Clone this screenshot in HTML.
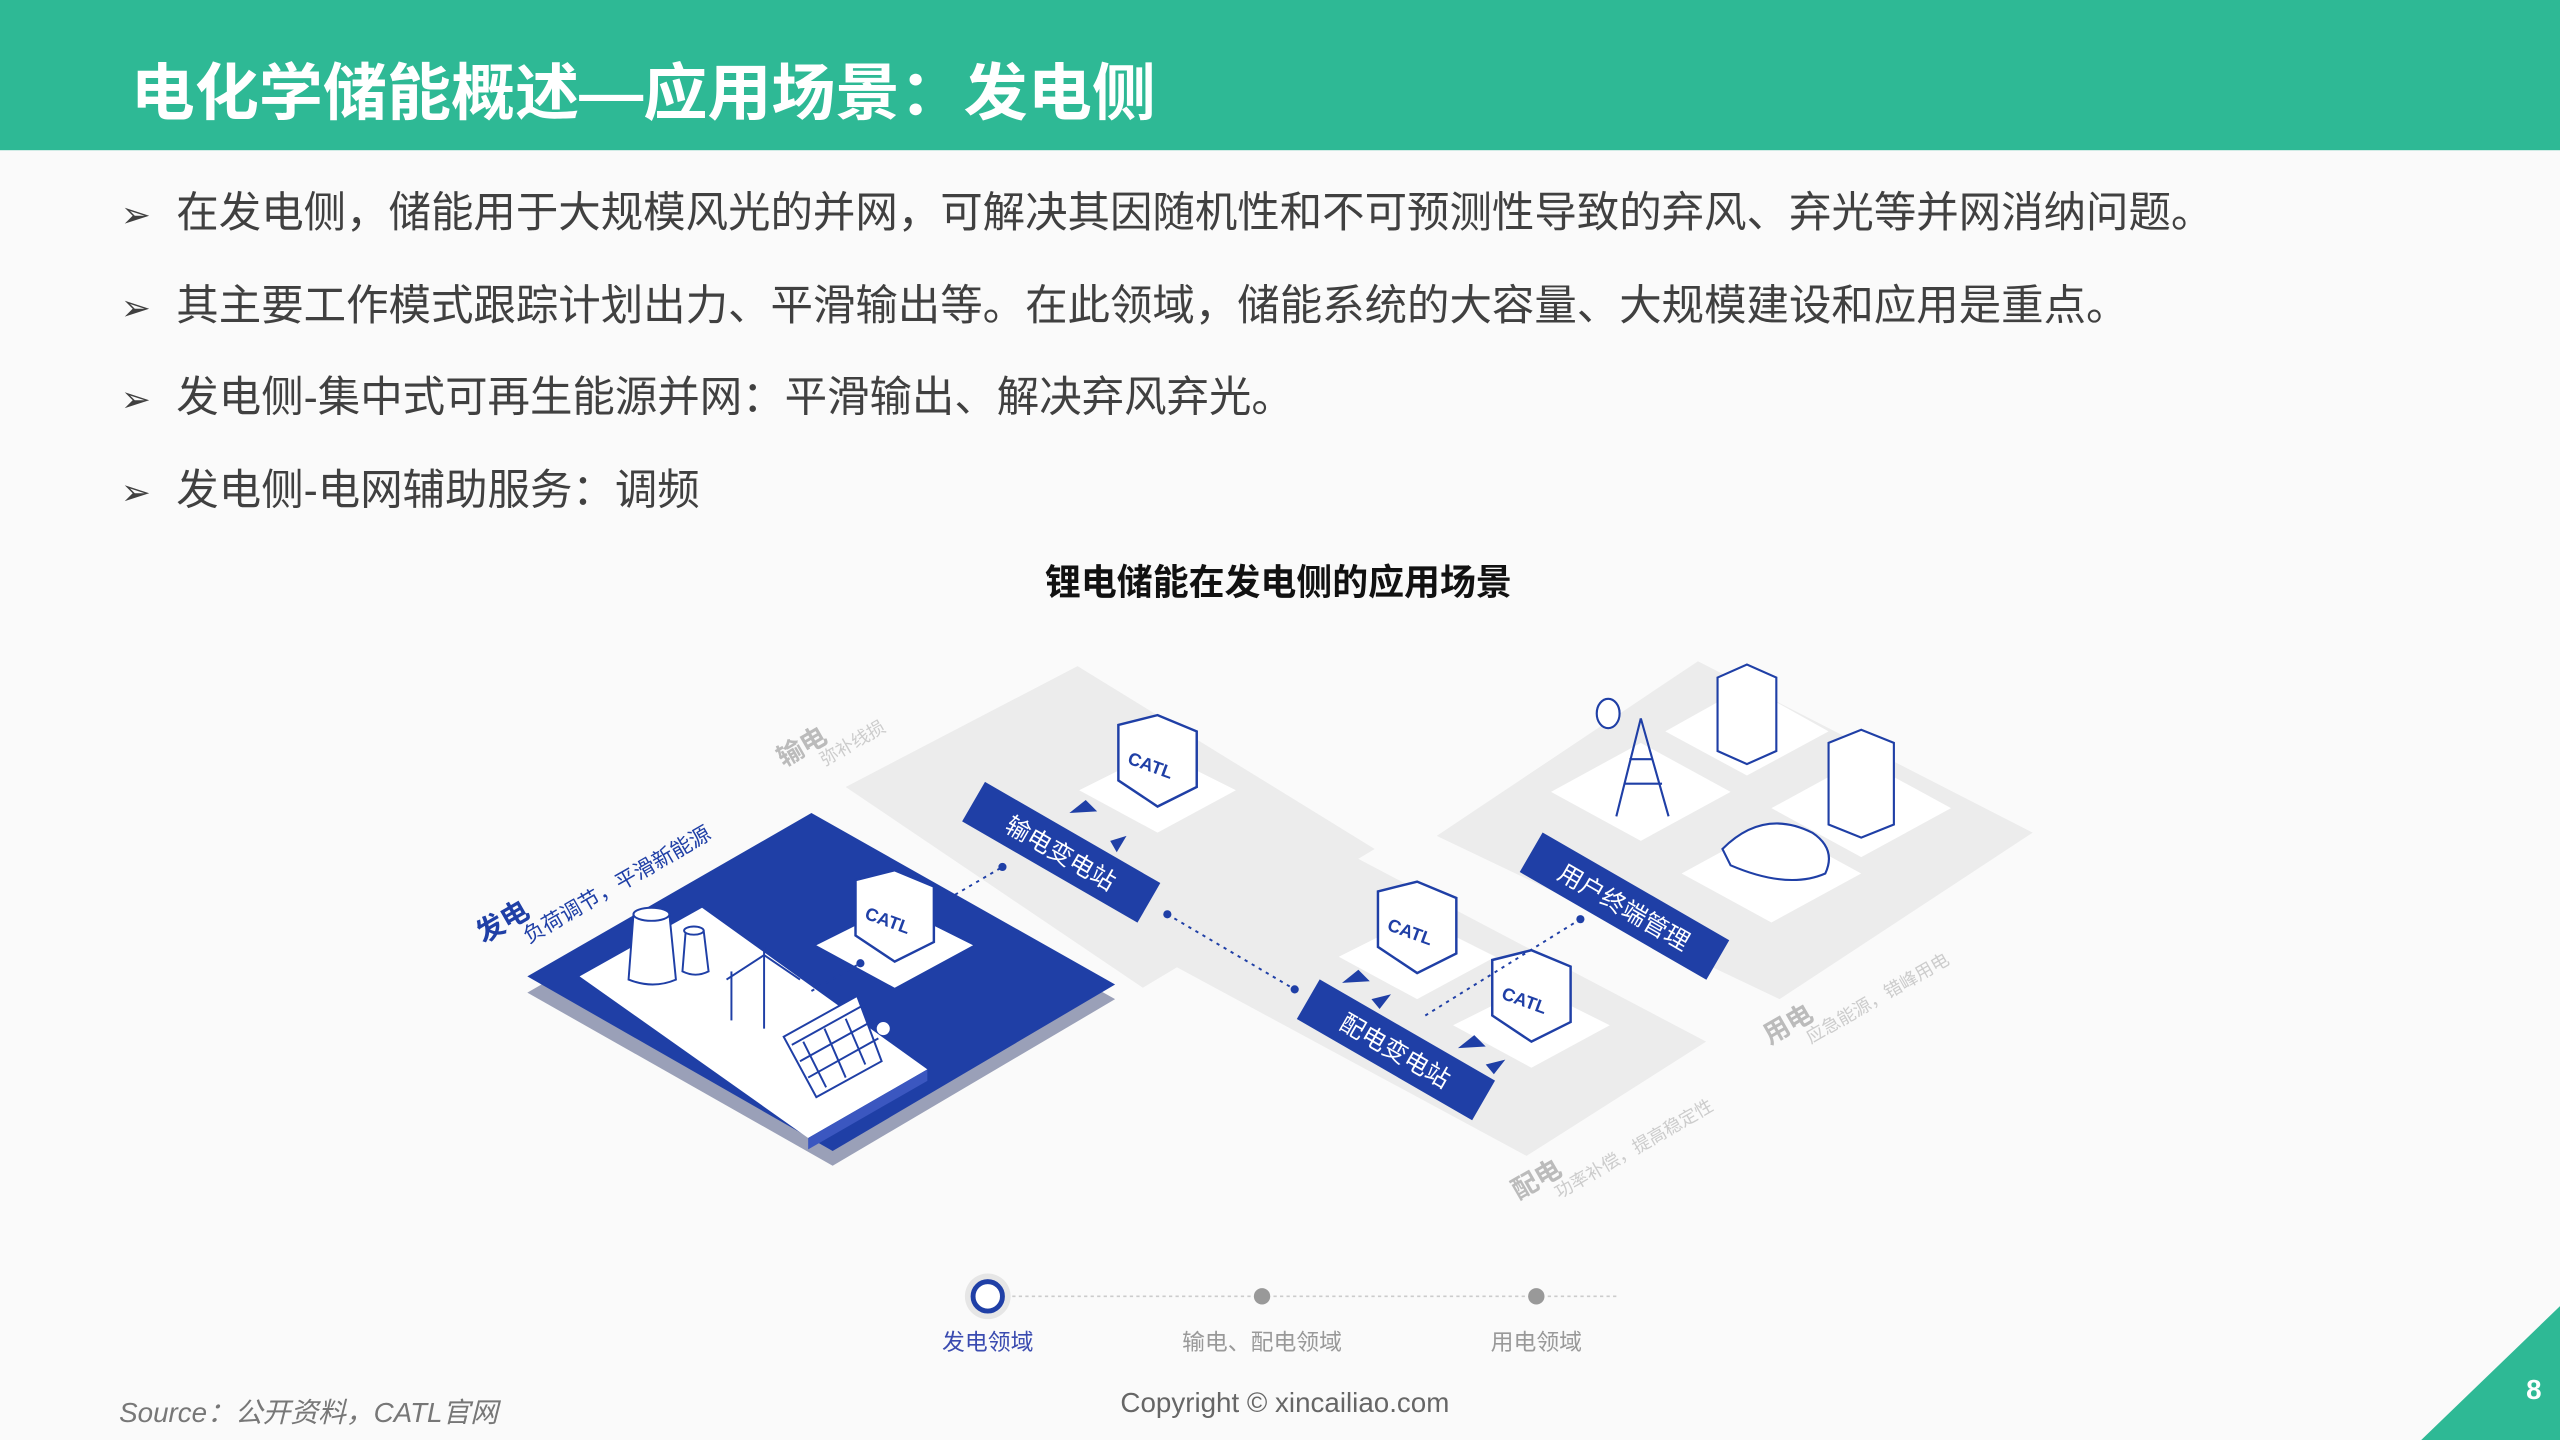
<!DOCTYPE html>
<html><head><meta charset="utf-8"><style>
html,body{margin:0;padding:0;background:#fafafa;}
svg{display:block;}
text{font-family:"Liberation Sans","Noto Sans CJK SC",sans-serif;}
</style></head><body>
<svg width="2560" height="1440" viewBox="0 0 1568 882" xmlns="http://www.w3.org/2000/svg">
<rect width="1568" height="882" fill="#fafafa"/>
<rect width="1568" height="92" fill="#2eb995"/>
<text x="80" y="70" font-size="38" font-weight="bold" fill="#fff" textLength="628" lengthAdjust="spacingAndGlyphs">电化学储能概述—应用场景：发电侧</text>
<g font-size="26" fill="#404040">
<text x="74" y="139" font-size="22">➢</text><text x="108" y="139">在发电侧，储能用于大规模风光的并网，可解决其因随机性和不可预测性导致的弃风、弃光等并网消纳问题。</text>
<text x="74" y="196" font-size="22">➢</text><text x="108" y="196">其主要工作模式跟踪计划出力、平滑输出等。在此领域，储能系统的大容量、大规模建设和应用是重点。</text>
<text x="74" y="252" font-size="22">➢</text><text x="108" y="252">发电侧-集中式可再生能源并网：平滑输出、解决弃风弃光。</text>
<text x="74" y="309" font-size="22">➢</text><text x="108" y="309">发电侧-电网辅助服务：调频</text>
</g>
<text x="783" y="364" font-size="22" font-weight="bold" fill="#111" text-anchor="middle">锂电储能在发电侧的应用场景</text>

<!-- gray plates -->
<polygon points="660,408 842,520 700,605 518,482" fill="#ececec"/>
<polygon points="830,525 1045,638 935,708 720,592" fill="#ececec"/>
<polygon points="1040,405 1245,510 1090,612 880,512" fill="#ececec"/>
<!-- blue plate -->
<polygon points="497,508 683,612 510,714 323,608" fill="#9aa0b8"/>
<polygon points="497,498 683,603 510,705 323,598" fill="#1f3fa6"/>
<polygon points="355,598 430,556 568,655 495,697" fill="#fff"/>
<polygon points="495,697 568,655 568,662 495,704" fill="#3b57c0"/>
<!-- power plant icons -->
<g fill="#fff" stroke="#1f3fa6" stroke-width="1.2">
<path d="M388,560 L385,600 Q400,606 414,600 L410,560 Z"/>
<ellipse cx="399" cy="560" rx="11" ry="4"/>
<path d="M420,570 L418,595 Q426,599 434,595 L431,570 Z"/>
<ellipse cx="425" cy="570" rx="6" ry="2.5"/>
<line x1="468" y1="580" x2="468" y2="630"/><line x1="468" y1="585" x2="445" y2="600"/><line x1="468" y1="585" x2="490" y2="600"/>
<line x1="448" y1="595" x2="448" y2="625"/>
<polygon points="480,635 525,610 540,650 500,672"/>
<path d="M485,640 L530,615 M490,650 L535,625 M495,660 L538,636 M492,638 L506,666 M505,630 L518,660 M518,624 L530,652" fill="none"/>
</g>
<!-- CATL boxes -->
<g font-size="11" font-weight="bold" fill="#1f3fa6">
<g transform="translate(709,468)"><polygon points="0,-8 48,16 0,42 -48,16" fill="#fff"/><polygon points="-24,-24 0,-30 24,-20 24,14 0,26 -24,10" fill="#fff" stroke="#1f3fa6" stroke-width="1.5"/><text x="-18" y="6" transform="rotate(20)">CATL</text></g>
<g transform="translate(548,563)"><polygon points="0,-8 48,16 0,42 -48,16" fill="#fff"/><polygon points="-24,-24 0,-30 24,-20 24,14 0,26 -24,10" fill="#fff" stroke="#1f3fa6" stroke-width="1.5"/><text x="-18" y="6" transform="rotate(20)">CATL</text></g>
<g transform="translate(868,570)"><polygon points="0,-8 48,16 0,42 -48,16" fill="#fff"/><polygon points="-24,-24 0,-30 24,-20 24,14 0,26 -24,10" fill="#fff" stroke="#1f3fa6" stroke-width="1.5"/><text x="-18" y="6" transform="rotate(20)">CATL</text></g>
<g transform="translate(938,612)"><polygon points="0,-8 48,16 0,42 -48,16" fill="#fff"/><polygon points="-24,-24 0,-30 24,-20 24,14 0,26 -24,10" fill="#fff" stroke="#1f3fa6" stroke-width="1.5"/><text x="-18" y="6" transform="rotate(20)">CATL</text></g>
</g>
<!-- user icons -->
<g fill="#fff">
<polygon points="1005,455 1060,485 1005,515 950,485"/>
<polygon points="1070,420 1120,448 1070,475 1020,448"/>
<polygon points="1140,465 1195,495 1140,525 1085,495"/>
<polygon points="1085,505 1140,535 1085,565 1030,535"/>
</g>
<g fill="#fff" stroke="#1f3fa6" stroke-width="1.3">
<path d="M1005,440 L990,500 M1005,440 L1022,500 M995,480 L1018,480 M998,465 L1012,465"/>
<ellipse cx="985" cy="437" rx="7" ry="9"/>
<polygon points="1052,415 1070,407 1088,415 1088,460 1070,468 1052,460"/>
<polygon points="1120,455 1140,447 1160,455 1160,505 1140,513 1120,505"/>
<path d="M1055,520 Q1080,495 1110,510 Q1125,520 1118,535 Q1095,545 1060,530 Z"/>
</g>
<!-- blue labels -->
<g font-size="15" fill="#fff">
<g transform="translate(650,522) rotate(30)"><rect x="-62" y="-14" width="124" height="28" fill="#1f3fa6"/><text x="0" y="6" text-anchor="middle">输电变电站</text></g>
<g transform="translate(855,643) rotate(30)"><rect x="-62" y="-14" width="124" height="28" fill="#1f3fa6"/><text x="0" y="6" text-anchor="middle">配电变电站</text></g>
<g transform="translate(995,555) rotate(30)"><rect x="-66" y="-14" width="132" height="28" fill="#1f3fa6"/><text x="0" y="6" text-anchor="middle">用户终端管理</text></g>
</g>
<!-- arrows -->
<g fill="#1f3fa6">
<polygon points="655,498 665,490 672,497"/><polygon points="680,515 690,512 684,522"/>
<polygon points="822,602 832,594 839,601"/><polygon points="840,612 852,609 845,618"/>
<polygon points="893,642 903,634 910,641"/><polygon points="910,652 922,649 915,658"/>
</g>
<!-- dotted links -->
<g stroke="#1f3fa6" stroke-width="1.2" stroke-dasharray="2,3" fill="#1f3fa6">
<line x1="585" y1="548" x2="614" y2="531"/><line x1="497" y1="607" x2="527" y2="590"/>
<line x1="715" y1="560" x2="793" y2="606"/><line x1="873" y1="622" x2="968" y2="563"/>
</g>
<g fill="#1f3fa6"><circle cx="614" cy="531" r="2.5"/><circle cx="715" cy="560" r="2.5"/><circle cx="793" cy="606" r="2.5"/><circle cx="968" cy="563" r="2.5"/><circle cx="527" cy="590" r="2.5"/></g>
<circle cx="541" cy="630" r="4" fill="#fff"/>
<!-- rotated gray labels -->
<g transform="translate(480,470) rotate(-30)"><text font-size="16" font-weight="bold" fill="#bbb">输电</text><text x="22" y="12" font-size="11" fill="#ccc">弥补线损</text></g>
<g transform="translate(296,578) rotate(-30)"><text font-size="17" font-weight="bold" fill="#1f3fa6">发电</text><text x="24" y="14" font-size="13" fill="#1f3fa6">负荷调节，平滑新能源</text></g>
<g transform="translate(930,735) rotate(-30)"><text font-size="16" font-weight="bold" fill="#bbb">配电</text><text x="22" y="12" font-size="11" fill="#ccc">功率补偿，提高稳定性</text></g>
<g transform="translate(1084,640) rotate(-30)"><text font-size="16" font-weight="bold" fill="#bbb">用电</text><text x="22" y="12" font-size="11" fill="#ccc">应急能源，错峰用电</text></g>

<!-- nav -->
<line x1="620" y1="794" x2="992" y2="794" stroke="#ccc" stroke-dasharray="2,2"/>
<circle cx="605" cy="794" r="14" fill="#e6e6e6"/>
<circle cx="605" cy="794" r="9" fill="#fff" stroke="#1f3fa6" stroke-width="3"/>
<circle cx="773" cy="794" r="5" fill="#999"/>
<circle cx="941" cy="794" r="5" fill="#999"/>
<g font-size="14" text-anchor="middle"><text x="605" y="827" fill="#3a4bb0">发电领域</text><text x="773" y="827" fill="#999">输电、配电领域</text><text x="941" y="827" fill="#999">用电领域</text></g>
<text x="73" y="871" font-size="17" font-style="italic" fill="#777">Source：公开资料，CATL官网</text>
<text x="787" y="865" font-size="17" fill="#666" text-anchor="middle">Copyright © xincailiao.com</text>
<polygon points="1483,882 1568,800 1568,882" fill="#2eb995"/>
<text x="1552" y="857" font-size="17" font-weight="bold" fill="#fff" text-anchor="middle">8</text>
</svg>
</body></html>
